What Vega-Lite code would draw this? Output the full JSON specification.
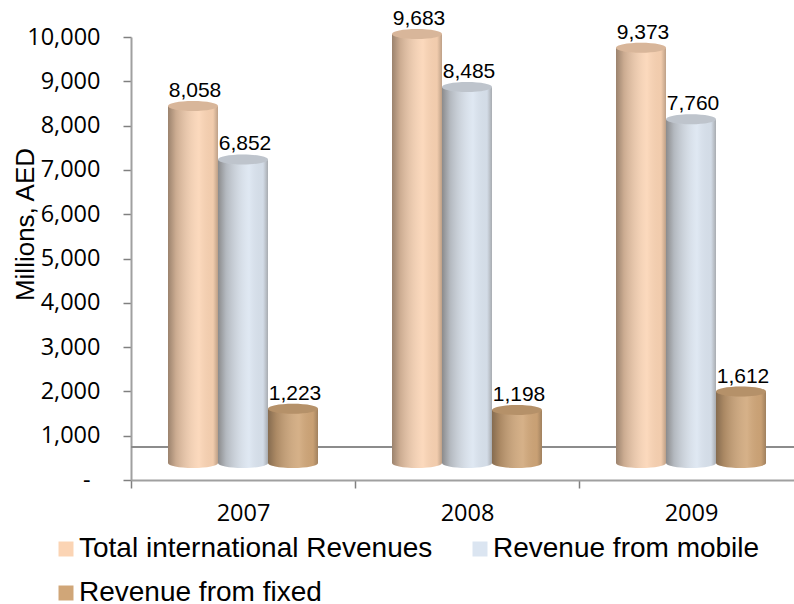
{
  "$schema": "https://vega.github.io/schema/vega-lite/v6.json",
  "width": 672,
  "height": 443,
  "autosize": "none",
  "padding": {"left": 131, "top": 37, "right": -9, "bottom": 124},
  "background": "white",
  "config": {
    "view": {"stroke": null},
    "font": "Liberation Sans",
    "legend": {
      "orient": "none",
      "direction": "horizontal",
      "legendX": -79,
      "legendY": 498,
      "padding": 0,
      "columns": 2,
      "columnPadding": 33,
      "rowPadding": 16,
      "symbolType": "square",
      "symbolSize": 225,
      "symbolStrokeWidth": 0,
      "labelFontSize": 28,
      "labelColor": "#000000",
      "labelOffset": -1,
      "labelLimit": 420
    }
  },
  "data": {
    "values": [
      {"year": "2007", "series": "Total international Revenues", "value": 8058},
      {"year": "2007", "series": "Revenue from mobile", "value": 6852},
      {"year": "2007", "series": "Revenue from fixed", "value": 1223},
      {"year": "2008", "series": "Total international Revenues", "value": 9683},
      {"year": "2008", "series": "Revenue from mobile", "value": 8485},
      {"year": "2008", "series": "Revenue from fixed", "value": 1198},
      {"year": "2009", "series": "Total international Revenues", "value": 9373},
      {"year": "2009", "series": "Revenue from mobile", "value": 7760},
      {"year": "2009", "series": "Revenue from fixed", "value": 1612}
    ]
  },
  "encoding": {
    "x": {
      "field": "year",
      "type": "nominal",
      "scale": {"paddingInner": 0, "paddingOuter": 0},
      "axis": {
        "title": null,
        "labelAngle": 0,
        "labelFont": "Open Sans",
        "labelFontSize": 23.5,
        "labelColor": "#000000",
        "labelPadding": 13,
        "tickBand": "extent",
        "tickSize": 8,
        "tickWidth": 1.5,
        "tickColor": "#808080",
        "domainColor": "#a0a0a0",
        "domainWidth": 2,
        "grid": false
      }
    },
    "xOffset": {
      "field": "series",
      "type": "nominal",
      "sort": ["Total international Revenues", "Revenue from mobile", "Revenue from fixed"],
      "scale": {"paddingInner": 0, "paddingOuter": 0.74}
    },
    "y": {
      "field": "value",
      "type": "quantitative",
      "scale": {"domain": [0, 10000], "nice": false},
      "axis": {
        "title": "Millions, AED",
        "titleFontSize": 26,
        "titleFontWeight": "normal",
        "titleColor": "#000000",
        "titleX": -93,
        "titleY": 187,
        "values": [0, 1000, 2000, 3000, 4000, 5000, 6000, 7000, 8000, 9000, 10000],
        "labelExpr": "datum.value === 0 ? '-\u00a0\u2009\u200b' : format(datum.value, ',')",
        "labelFont": "Open Sans",
        "labelFontSize": 23.5,
        "labelColor": "#000000",
        "labelPadding": 23,
        "tickSize": 8,
        "tickWidth": 1.5,
        "tickColor": "#808080",
        "domainColor": "#a0a0a0",
        "domainWidth": 2,
        "grid": false
      }
    }
  },
  "layer": [
    {
      "description": "Back edge of the chart floor, behind the cylinders",
      "mark": {"type": "rule", "color": "#8c8c8c", "strokeWidth": 2},
      "encoding": {
        "x": {"value": 0},
        "x2": {"value": 672},
        "xOffset": {"value": 0},
        "y": {"datum": 745}
      }
    },
    {
      "description": "Rounded foot of each cylinder",
      "mark": {
        "type": "point",
        "filled": true,
        "opacity": 1,
        "size": 2500,
        "shape": "M-1,0A1,0.2,0,1,1,1,0A1,0.2,0,1,1,-1,0Z",
        "yOffset": -17
      },
      "encoding": {
        "y": {"datum": 0},
        "color": {
          "field": "series",
          "type": "nominal",
          "title": null,
          "scale": {
            "domain": ["Total international Revenues", "Revenue from mobile", "Revenue from fixed"],
            "range": ["#fbd4b4", "#dbe5f1", "#d0a678"]
          }
        }
      }
    },
    {
      "description": "Side shading on the foot",
      "mark": {
        "type": "point",
        "filled": true,
        "opacity": 1,
        "size": 2500,
        "shape": "M-1,0A1,0.2,0,1,1,1,0A1,0.2,0,1,1,-1,0Z",
        "yOffset": -17,
        "fill": {
          "x1": 0, "x2": 1, "y1": 0, "y2": 0,
          "gradient": "linear",
          "stops": [
            {"offset": 0, "color": "rgba(60,50,40,0.5)"},
            {"offset": 0.16, "color": "rgba(60,50,40,0.25)"},
            {"offset": 0.62, "color": "rgba(255,255,255,0.12)"},
            {"offset": 0.9, "color": "rgba(60,50,40,0.05)"},
            {"offset": 1, "color": "rgba(60,50,40,0.32)"}
          ]
        }
      },
      "encoding": {"y": {"datum": 0}}
    },
    {
      "description": "Cylinder body in the series colour",
      "mark": {"type": "bar", "width": 50, "yOffset": -17, "y2Offset": -17},
      "encoding": {
        "y2": {"datum": 0},
        "color": {"field": "series", "type": "nominal", "title": null}
      }
    },
    {
      "description": "Side shading that rounds the cylinder body",
      "mark": {
        "type": "bar",
        "width": 50,
        "yOffset": -17,
        "y2Offset": -17,
        "fill": {
          "x1": 0, "x2": 1, "y1": 0, "y2": 0,
          "gradient": "linear",
          "stops": [
            {"offset": 0, "color": "rgba(60,50,40,0.5)"},
            {"offset": 0.16, "color": "rgba(60,50,40,0.25)"},
            {"offset": 0.62, "color": "rgba(255,255,255,0.12)"},
            {"offset": 0.9, "color": "rgba(60,50,40,0.05)"},
            {"offset": 1, "color": "rgba(60,50,40,0.32)"}
          ]
        }
      },
      "encoding": {"y2": {"datum": 0}}
    },
    {
      "description": "Cylinder cap in the series colour",
      "mark": {
        "type": "point",
        "filled": true,
        "opacity": 1,
        "size": 2500,
        "shape": "M-1,0A1,0.2,0,1,1,1,0A1,0.2,0,1,1,-1,0Z",
        "yOffset": -17
      },
      "encoding": {
        "color": {"field": "series", "type": "nominal", "title": null}
      }
    },
    {
      "description": "Darker tone on the cap",
      "mark": {
        "type": "point",
        "filled": true,
        "opacity": 1,
        "size": 2500,
        "shape": "M-1,0A1,0.2,0,1,1,1,0A1,0.2,0,1,1,-1,0Z",
        "yOffset": -17,
        "fill": "rgba(60,50,40,0.18)"
      }
    },
    {
      "description": "Value labels above the cylinders",
      "mark": {
        "type": "text",
        "fontSize": 21,
        "color": "#000000",
        "align": "center",
        "baseline": "alphabetic",
        "dx": 2,
        "dy": -26
      },
      "encoding": {
        "text": {"field": "value", "type": "quantitative", "format": ","}
      }
    }
  ]
}
